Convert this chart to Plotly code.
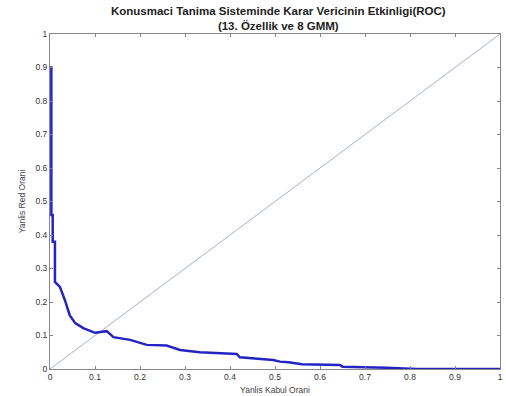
import plotly.graph_objects as go

far = [0.0, 0.003, 0.003, 0.006, 0.006, 0.011, 0.011, 0.022, 0.033, 0.044, 0.056, 0.074, 0.1, 0.126, 0.141,
       0.178, 0.215, 0.259, 0.289, 0.333, 0.415, 0.422, 0.496, 0.511, 0.53, 0.56, 0.644, 0.65, 0.748, 0.815, 1.0]
frr = [0.9, 0.9, 0.46, 0.46, 0.38, 0.38, 0.26, 0.245, 0.206, 0.16, 0.137, 0.122, 0.108, 0.113, 0.095,
       0.087, 0.072, 0.07, 0.057, 0.05, 0.045, 0.035, 0.027, 0.022, 0.02, 0.014, 0.012, 0.007, 0.004, 0.0, 0.0]
diag = [0, 1]
ticks = [i / 10 for i in range(11)]
tick_text = ["0", "0.1", "0.2", "0.3", "0.4", "0.5", "0.6", "0.7", "0.8", "0.9", "1"]

fig = go.Figure()
fig.add_trace(go.Scatter(x=diag, y=diag, mode="lines", line=dict(color="#a8aed0", width=1), hoverinfo="skip"))
fig.add_trace(go.Scatter(x=far, y=frr, mode="lines", line=dict(color="#2424c4", width=2.5, shape="linear")))

axis_common = dict(range=[0, 1], tickvals=ticks, ticktext=tick_text, ticks="inside", ticklen=3,
                   tickcolor="#888888", showline=True, linecolor="#888888", linewidth=1, mirror="ticks",
                   showgrid=False, zeroline=False, automargin=False,
                   tickfont=dict(size=8.5, color="#333333", family="Liberation Sans"))
fig.update_xaxes(**axis_common, title=dict(text="Yanlis Kabul Orani", font=dict(size=8.5, color="#444444"), standoff=5))
fig.update_yaxes(**axis_common, title=dict(text="Yanlis Red Orani", font=dict(size=8.5, color="#444444"), standoff=8))

fig.update_layout(
    template="none",
    width=506, height=396,
    margin=dict(l=50, r=6, t=34, b=27, autoexpand=False),
    plot_bgcolor="white", paper_bgcolor="white",
    showlegend=False,
    font=dict(family="Liberation Sans", size=8.5, color="#333333"),
    title=dict(text="<b>Konusmaci Tanima Sisteminde Karar Vericinin Etkinligi(ROC)<br>(13. Özellik ve 8 GMM)</b>",
               x=0.55, xanchor="center", yref="container", y=0.962, yanchor="top", automargin=False,
               font=dict(size=11.5, color="#222222")),
)
fig.write_html("out.html", config={"displayModeBar": False},
               post_script="document.body.style.margin='0';document.body.style.overflow='hidden';")
